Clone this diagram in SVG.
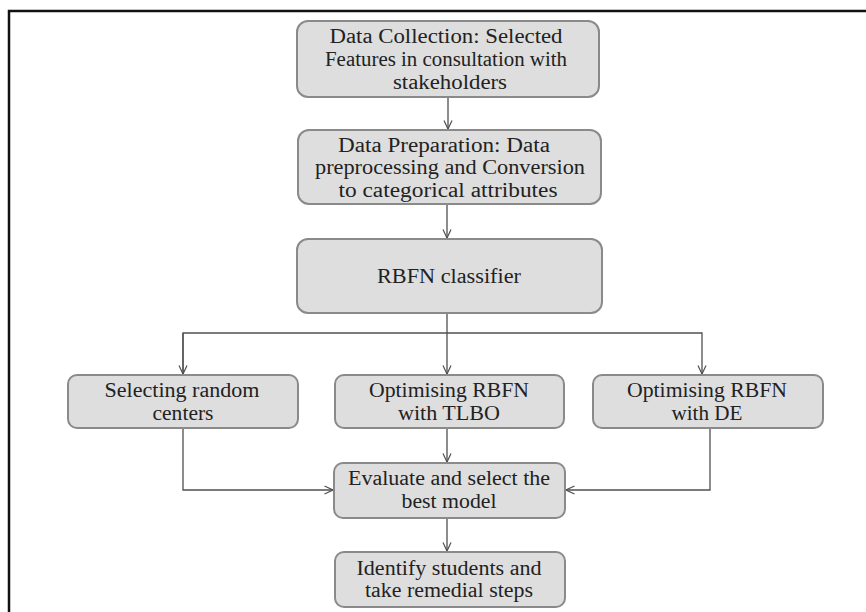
<svg xmlns="http://www.w3.org/2000/svg" width="866" height="612" viewBox="0 0 866 612">
<defs>
<style>
.box{fill:#dedede;stroke:#8a8a8a;stroke-width:2}
.t{font-family:"Liberation Serif","Times New Roman",serif;font-size:20.5px;fill:#222;text-anchor:middle}
.c{fill:none;stroke:#505050;stroke-width:1.3}
</style>
<marker id="ah" viewBox="0 0 10 10" refX="9.5" refY="5" markerWidth="10" markerHeight="10" markerUnits="userSpaceOnUse" orient="auto">
<path d="M1,1 L9.5,5 L1,9" fill="none" stroke="#505050" stroke-width="1.2"/>
</marker>
</defs>
<rect width="866" height="612" fill="#fff"/>
<rect x="9" y="11" width="900" height="700" fill="none" stroke="#111" stroke-width="2.5"/>

<g id="connectors">
<line class="c" x1="448" y1="97" x2="448" y2="129" marker-end="url(#ah)"/>
<line class="c" x1="447" y1="204" x2="447" y2="238" marker-end="url(#ah)"/>
<line class="c" x1="447" y1="313" x2="447" y2="374" marker-end="url(#ah)"/>
<polyline class="c" points="183,374 183,333 702,333 702,374" marker-end="url(#ah)"/>
<line class="c" x1="183" y1="333" x2="183" y2="374" marker-end="url(#ah)"/>
<polyline class="c" points="183,428 183,490 333,490" marker-end="url(#ah)"/>
<polyline class="c" points="710,428 710,490 566,490" marker-end="url(#ah)"/>
<line class="c" x1="447" y1="428" x2="447" y2="462" marker-end="url(#ah)"/>
<line class="c" x1="447" y1="518" x2="447" y2="551" marker-end="url(#ah)"/>
</g>

<g id="n1">
<rect class="box" x="297" y="21" width="302" height="76" rx="11"/>
<text class="t" x="446" y="43" textLength="233" lengthAdjust="spacingAndGlyphs">Data Collection: Selected</text>
<text class="t" x="446" y="66" textLength="242" lengthAdjust="spacingAndGlyphs">Features in consultation with</text>
<text class="t" x="450" y="89" textLength="114" lengthAdjust="spacingAndGlyphs">stakeholders</text>
</g>

<g id="n2">
<rect class="box" x="298" y="130" width="303" height="74" rx="11"/>
<text class="t" x="444" y="152" textLength="212" lengthAdjust="spacingAndGlyphs">Data Preparation: Data</text>
<text class="t" x="450" y="174" textLength="270" lengthAdjust="spacingAndGlyphs">preprocessing and  Conversion</text>
<text class="t" x="448" y="197" textLength="219" lengthAdjust="spacingAndGlyphs">to categorical  attributes</text>
</g>

<g id="n3">
<rect class="box" x="297" y="239" width="305" height="74" rx="11"/>
<text class="t" x="449" y="283" textLength="144" lengthAdjust="spacingAndGlyphs">RBFN classifier</text>
</g>

<g id="n4">
<rect class="box" x="68" y="375" width="230" height="53" rx="9"/>
<text class="t" x="182" y="397" textLength="155" lengthAdjust="spacingAndGlyphs">Selecting random</text>
<text class="t" x="183" y="420" textLength="61" lengthAdjust="spacingAndGlyphs">centers</text>
</g>

<g id="n5">
<rect class="box" x="335" y="375" width="229" height="53" rx="9"/>
<text class="t" x="449" y="397" textLength="160" lengthAdjust="spacingAndGlyphs">Optimising RBFN</text>
<text class="t" x="449" y="420" textLength="102" lengthAdjust="spacingAndGlyphs">with TLBO</text>
</g>

<g id="n6">
<rect class="box" x="593" y="375" width="230" height="53" rx="9"/>
<text class="t" x="707" y="397" textLength="160" lengthAdjust="spacingAndGlyphs">Optimising RBFN</text>
<text class="t" x="707" y="420" textLength="71" lengthAdjust="spacingAndGlyphs">with DE</text>
</g>

<g id="n7">
<rect class="box" x="334" y="463" width="231" height="55" rx="9"/>
<text class="t" x="449" y="485" textLength="202" lengthAdjust="spacingAndGlyphs">Evaluate and select the</text>
<text class="t" x="449" y="508" textLength="95" lengthAdjust="spacingAndGlyphs">best model</text>
</g>

<g id="n8">
<rect class="box" x="335" y="552" width="230" height="55" rx="9"/>
<text class="t" x="449" y="575" textLength="185" lengthAdjust="spacingAndGlyphs">Identify students and</text>
<text class="t" x="449" y="597" textLength="168" lengthAdjust="spacingAndGlyphs">take remedial steps</text>
</g>
</svg>
